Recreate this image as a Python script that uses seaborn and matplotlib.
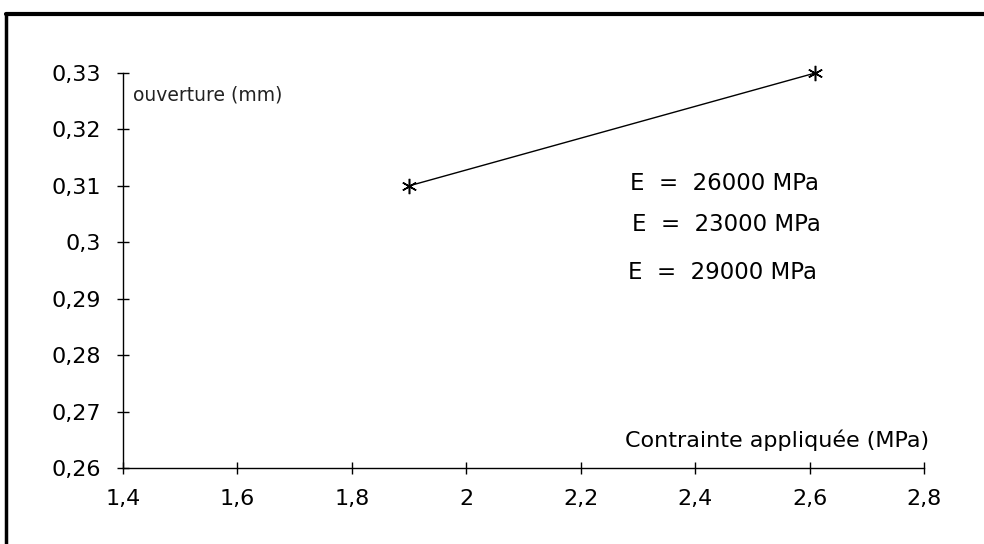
import matplotlib
matplotlib.use('Agg')
import matplotlib.pyplot as plt
from matplotlib.lines import Line2D
import seaborn as sns
import pandas as pd

contrainte = [1.9, 2.61]
ouverture = [0.31, 0.33]
x_ticks = [1.4, 1.6, 1.8, 2.0, 2.2, 2.4, 2.6, 2.8]
x_labels = ['1,4', '1,6', '1,8', '2', '2,2', '2,4', '2,6', '2,8']
y_ticks = [0.26, 0.27, 0.28, 0.29, 0.30, 0.31, 0.32, 0.33]
y_labels = ['0,26', '0,27', '0,28', '0,29', '0,3', '0,31', '0,32', '0,33']
e_labels = ['E  =  26000 MPa', 'E  =  23000 MPa', 'E  =  29000 MPa']

sns.set_style('white')
plt.rcParams['font.family'] = ['DejaVu Sans']
plt.rcParams['text.color'] = 'black'

df = pd.DataFrame({'contrainte': contrainte, 'ouverture': ouverture})

fig = plt.figure(figsize=(9.84, 5.44), dpi=100)
ax = fig.add_axes([0.125, 0.1397, 0.814, 0.7261])

sns.lineplot(data=df, x='contrainte', y='ouverture', ax=ax, color='black',
             linewidth=1.0, marker=(6, 2, 0), markersize=11,
             markeredgecolor='black', markeredgewidth=1.1, clip_on=False)

ax.set_xlim(1.4, 2.8)
ax.set_ylim(0.26, 0.33)
ax.set_xticks(x_ticks)
ax.set_xticklabels(x_labels)
ax.set_yticks(y_ticks)
ax.set_yticklabels(y_labels)
ax.tick_params(axis='both', direction='inout', length=8, width=1,
               color='black', labelsize=16, labelcolor='black',
               bottom=True, left=True)
ax.tick_params(axis='x', pad=11)
ax.tick_params(axis='y', pad=12)
for s in ['top', 'right']:
    ax.spines[s].set_visible(False)
for s in ['left', 'bottom']:
    ax.spines[s].set_color('black')
    ax.spines[s].set_linewidth(1.0)
ax.set_xlabel('')
ax.set_ylabel('')

ax.text(0.012, 0.944, 'ouverture (mm)', transform=ax.transAxes,
        fontsize=13.5, va='center', ha='left', color='#222222')
ax.text(1.007, 0.071, 'Contrainte appliquée (MPa)', transform=ax.transAxes,
        fontsize=16, va='center', ha='right')

e_ys = [0.7215, 0.6177, 0.496]
e_xs = [0.633, 0.635, 0.630]
for lab, xx, yy in zip(e_labels, e_xs, e_ys):
    ax.text(xx, yy, lab, transform=ax.transAxes, fontsize=16.5,
            va='center', ha='left')

# outer border of the scanned frame
fig.add_artist(Line2D([0.006, 1.0], [0.975, 0.975], transform=fig.transFigure,
                      color='black', linewidth=3))
fig.add_artist(Line2D([0.006, 0.006], [0.0, 0.975], transform=fig.transFigure,
                      color='black', linewidth=2.5))

fig.savefig('out.png', dpi=100)
